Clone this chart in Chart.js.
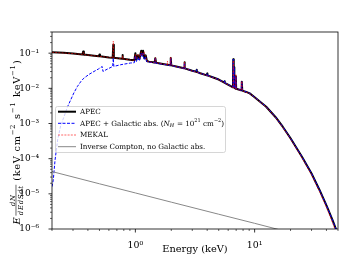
<!DOCTYPE html>
<html>
<head>
<meta charset="utf-8">
<script src="https://cdn.jsdelivr.net/npm/chart.js@4.4.1/dist/chart.umd.min.js"></script>
<style>
  html, body { margin: 0; padding: 0; background: #fff; }
</style>
</head>
<body>
<canvas id="spec" width="349" height="262"></canvas>
<script>
// Energías (keV) y flujos
const apecE = [0.2,0.25,0.3,0.36,0.365,0.37,0.45,0.495,0.5,0.505,0.6,0.645,0.653,0.66,0.775,0.78,0.785,0.9,0.98,1.0,1.02,1.05,1.08,1.12,1.14,1.16,1.19,1.22,1.25,1.3,1.45,1.47,1.49,1.7,1.96,1.98,2.0,2.2,2.56,2.58,2.6,3.0,3.24,3.26,3.28,3.5,3.98,4.0,4.02,4.5,5.0,5.58,5.6,5.62,6.2,6.58,6.62,6.68,6.72,6.76,6.94,6.96,7.0,7.7,7.8,7.88,8.5,9.1,10,12.5,15,17.2,20,25,30,35,40,45,50];
const apecF = [0.107,0.102,0.0977,0.092,0.112,0.091,0.0851,0.082,0.0912,0.0815,0.0759,0.0742,0.174,0.074,0.0695,0.089,0.0693,0.0646,0.0625,0.100,0.066,0.087,0.068,0.117,0.090,0.117,0.072,0.087,0.060,0.0575,0.054,0.072,0.0535,0.0495,0.0452,0.0724,0.045,0.0417,0.0372,0.055,0.037,0.0316,0.0295,0.034,0.0293,0.0269,0.0234,0.0263,0.0233,0.0204,0.0178,0.0145,0.0160,0.0144,0.0120,0.0107,0.0676,0.0110,0.040,0.0105,0.0098,0.022,0.0097,0.0088,0.0155,0.0086,0.0079,0.0072,0.0056,0.0030,0.00151,0.00081,0.00038,0.000112,0.000038,0.0000129,0.0000047,0.00000178,0.0000007];

const absE = [0.2,0.205,0.212,0.223,0.236,0.252,0.27,0.287,0.305,0.326,0.35,0.37,0.41,0.45,0.49,0.527,0.535,0.58,0.645,0.653,0.66,0.75,0.91,0.98,1.0,1.02,1.05,1.08,1.12,1.14,1.16,1.19,1.22,1.25,1.3,1.45,1.47,1.49,1.7,1.96,1.98,2.0,2.2,2.56,2.58,2.6,3.0,3.24,3.26,3.28,3.5,3.98,4.0,4.02,4.5,5.0,5.58,5.6,5.62,6.2,6.58,6.62,6.68,6.72,6.76,6.94,6.96,7.0,7.7,7.8,7.88,8.5,9.1,10,12.5,15,17.2,20,25,30,35,40,45,50];
const absF = [1.6e-5,2.45e-5,9e-5,3.4e-4,8.5e-4,1.55e-3,3.0e-3,4.7e-3,7.4e-3,0.0112,0.0158,0.0195,0.0251,0.0302,0.0355,0.0417,0.0302,0.035,0.0417,0.072,0.042,0.0468,0.0525,0.0535,0.085,0.058,0.075,0.060,0.100,0.080,0.100,0.064,0.077,0.0565,0.056,0.0525,0.070,0.052,0.0485,0.0446,0.0715,0.0445,0.0413,0.037,0.0546,0.0368,0.0315,0.0294,0.0339,0.0292,0.0268,0.0234,0.0263,0.0233,0.0204,0.0178,0.0145,0.0166,0.0144,0.0120,0.0107,0.0676,0.0110,0.040,0.0105,0.0098,0.022,0.0097,0.0088,0.0155,0.0086,0.0079,0.0072,0.0056,0.0030,0.00151,0.00081,0.00038,0.000112,0.000038,0.0000129,0.0000047,0.00000178,0.0000007];

const mekalE = [0.2,0.3,0.36,0.365,0.37,0.5,0.6,0.645,0.653,0.66,0.775,0.78,0.785,0.9,0.98,1.0,1.02,1.06,1.09,1.12,1.15,1.18,1.22,1.25,1.3,1.45,1.47,1.49,1.85,1.86,1.87,1.96,1.98,2.0,2.56,2.58,2.6,3.0,3.5,4.0,5.0,6.2,6.6,6.64,6.68,6.94,6.96,6.98,7.7,7.8,7.88,9.1,10,12.5,15,17.2,20,25,30,35,40,45,50];
const mekalF = [0.106,0.0975,0.092,0.105,0.091,0.0812,0.0757,0.0740,0.22,0.0738,0.0693,0.085,0.069,0.0644,0.0623,0.094,0.07,0.095,0.07,0.11,0.085,0.11,0.08,0.0598,0.0573,0.0538,0.075,0.0533,0.047,0.06,0.047,0.045,0.078,0.0448,0.0370,0.058,0.0368,0.0314,0.0267,0.0232,0.0176,0.0118,0.0105,0.062,0.0104,0.0097,0.025,0.0096,0.0087,0.016,0.0085,0.0071,0.0055,0.00295,0.00147,0.00078,0.00036,0.000104,0.0000345,0.0000115,0.0000041,0.0000015,0.00000058];

const icE = [0.2,0.5,1,2,5,10,20,50];
const icF = [4.3e-5,1.93e-5,1.06e-5,5.8e-6,2.63e-6,1.45e-6,7.9e-7,3.6e-7];

// Ticks
const xMajor = [1, 10];
const xMinor = [0.2,0.3,0.4,0.5,0.6,0.7,0.8,0.9,2,3,4,5,6,7,8,9,20,30,40,50];
const yMajor = [1e-6,1e-5,1e-4,1e-3,1e-2,1e-1];

const serif = "'DejaVu Serif', 'Liberation Serif', serif";

function pares(xs, ys) {
    return xs.map((x, i) => ({ x: x, y: ys[i] }));
}

const sup = { '-': '\u207B', '0': '\u2070', '1': '\u00B9', '2': '\u00B2', '3': '\u00B3', '4': '\u2074', '5': '\u2075', '6': '\u2076', '7': '\u2077', '8': '\u2078', '9': '\u2079' };
function potencia(v) {
    const e = Math.round(Math.log10(v));
    return '10' + String(e).split('').map(c => sup[c]).join('');
}

// Dibuja texto con trozos (cursiva, superíndice, subíndice); esp = espacio extra por letra
function trozos(ctx, runs, x, y, medir, esp) {
    esp = esp || 0;
    let cx = x;
    runs.forEach(r => {
        ctx.font = (r.it ? 'italic ' : '') + r.s + 'px ' + serif;
        r.t.split('').forEach(ch => {
            if (!medir) ctx.fillText(ch, cx, y + (r.dy || 0));
            cx += ctx.measureText(ch).width + esp;
        });
        cx += r.gap || 0;
    });
    return cx - x;
}

// Titulo del eje y: E dN/dEdSdt (keV cm-2 s-1 keV-1)
function tituloY(ctx, S, esp, dibujar) {
    const s = S * 0.7;
    const parte2 = [
        { t: '(keV cm', s: S }, { t: '\u22122', s: s, dy: -S * 0.42, gap: S * 0.1 },
        { t: ' s', s: S }, { t: '\u22121', s: s, dy: -S * 0.42, gap: S * 0.1 },
        { t: ' keV', s: S }, { t: '\u22121', s: s, dy: -S * 0.42, gap: S * 0.05 },
        { t: ')', s: S }
    ];
    const wE = trozos(ctx, [{ t: 'E', s: S, it: true }], 0, 0, true, esp);
    const wNum = trozos(ctx, [{ t: 'dN', s: s, it: true }], 0, 0, true, esp);
    const wDen = trozos(ctx, [{ t: 'dEdSdt', s: s, it: true }], 0, 0, true, esp);
    const wFrac = Math.max(wNum, wDen) + 1;
    const w2 = trozos(ctx, parte2, 0, 0, true, esp);
    const total = wE + 1 + wFrac + S * 0.4 + w2;
    if (!dibujar) return total;
    let u = -total / 2;
    trozos(ctx, [{ t: 'E', s: S, it: true }], u, 0, false, esp);
    u += wE + 1;
    trozos(ctx, [{ t: 'dN', s: s, it: true }], u + (wFrac - wNum) / 2, -S * 0.5, false, esp);
    trozos(ctx, [{ t: 'dEdSdt', s: s, it: true }], u + (wFrac - wDen) / 2, S * 0.35, false, esp);
    ctx.lineWidth = 0.6;
    ctx.beginPath();
    ctx.moveTo(u, -S * 0.36);
    ctx.lineTo(u + wFrac, -S * 0.36);
    ctx.stroke();
    u += wFrac + S * 0.4;
    trozos(ctx, parte2, u, 0, false, esp);
    return total;
}

const decoracion = {
    id: 'decoracion',
    afterDatasetsDraw(chart) {
        const ctx = chart.ctx;
        const a = chart.chartArea;
        const xs = chart.scales.x, ys = chart.scales.y;
        ctx.save();
        ctx.strokeStyle = '#000';
        // marco
        ctx.lineWidth = 0.8;
        ctx.strokeRect(a.left, a.top, a.right - a.left, a.bottom - a.top);
        // marcas
        const tick = (px, len, w, vertical) => {
            ctx.lineWidth = w;
            ctx.beginPath();
            if (vertical) { ctx.moveTo(px, a.bottom); ctx.lineTo(px, a.bottom + len); }
            else { ctx.moveTo(a.left, px); ctx.lineTo(a.left - len, px); }
            ctx.stroke();
        };
        xMajor.forEach(v => tick(xs.getPixelForValue(v), 3.5, 0.8, true));
        xMinor.forEach(v => tick(xs.getPixelForValue(v), 2, 0.6, true));
        yMajor.forEach(v => tick(ys.getPixelForValue(v), 3.5, 0.8, false));
        yMajor.forEach(v => {
            for (let k = 2; k <= 9; k++) {
                const val = v * k;
                if (val <= ys.max) tick(ys.getPixelForValue(val), 2, 0.6, false);
            }
        });

        // titulo eje x
        ctx.fillStyle = '#000';
        ctx.font = '9.8px ' + serif;
        ctx.textAlign = 'center';
        ctx.textBaseline = 'middle';
        ctx.fillText('Energy (keV)', (a.left + a.right) / 2, 249);

        // titulo eje y (rotado), con espacio entre letras para ocupar ~170 px
        ctx.textAlign = 'left';
        ctx.textBaseline = 'alphabetic';
        const S = 9.8;
        const base = tituloY(ctx, S, 0, false);
        const esp = Math.max(0, Math.min(1.2, (170 - base) / 34));
        ctx.translate(19.5, 142);
        ctx.rotate(-Math.PI / 2);
        tituloY(ctx, S, esp, true);
        ctx.restore();
    },
    afterDraw(chart) {
        const ctx = chart.ctx;
        ctx.save();
        // caja de leyenda
        const bx = 55.5, by = 106.5, bw = 170, bh = 46;
        ctx.fillStyle = 'rgba(255,255,255,0.8)';
        ctx.strokeStyle = '#cccccc';
        ctx.lineWidth = 0.8;
        ctx.beginPath();
        ctx.roundRect(bx, by, bw, bh, 2);
        ctx.fill();
        ctx.stroke();

        const L = 7.2;
        const filas = [111.7, 123.3, 135, 146.7];
        const textos = [
            [{ t: 'APEC', s: L }],
            [{ t: 'APEC + Galactic abs. (', s: L }, { t: 'N', s: L, it: true }, { t: 'H', s: L * 0.7, it: true, dy: L * 0.2, gap: 0.5 },
             { t: ' = 10', s: L }, { t: '21', s: L * 0.7, dy: -L * 0.4 }, { t: ' cm', s: L }, { t: '\u22122', s: L * 0.7, dy: -L * 0.4 }, { t: ')', s: L }],
            [{ t: 'MEKAL', s: L }],
            [{ t: 'Inverse Compton, no Galactic abs.', s: L }]
        ];
        chart.data.datasets.forEach((d, i) => {
            const y = filas[i];
            ctx.strokeStyle = d.borderColor;
            ctx.lineWidth = d.borderWidth;
            ctx.setLineDash(d.borderDash || []);
            ctx.beginPath();
            ctx.moveTo(58, y);
            ctx.lineTo(76, y);
            ctx.stroke();
            ctx.setLineDash([]);
            ctx.fillStyle = '#000';
            ctx.textBaseline = 'middle';
            trozos(ctx, textos[i], 80, y + 0.5, false);
        });
        ctx.restore();
    }
};

const datasets = [
    { label: 'APEC', data: pares(apecE, apecF), borderColor: '#000000', borderWidth: 2, order: 4 },
    { label: 'APEC + Galactic abs.', data: pares(absE, absF), borderColor: '#0000ff', borderWidth: 1, borderDash: [3, 1.5], order: 3 },
    { label: 'MEKAL', data: pares(mekalE, mekalF), borderColor: 'rgba(255,0,0,0.75)', borderWidth: 0.8, borderDash: [2, 1.2], order: 2 },
    { label: 'Inverse Compton', data: pares(icE, icF), borderColor: '#888888', borderWidth: 1, order: 1 }
];
datasets.forEach(d => {
    d.pointRadius = 0;
    d.tension = 0;
    d.fill = false;
    d.borderJoinStyle = 'round';
});

new Chart(document.getElementById('spec').getContext('2d'), {
    type: 'line',
    data: { datasets: datasets },
    options: {
        responsive: false,
        animation: false,
        devicePixelRatio: 1,
        layout: { padding: { top: 32, right: 11, left: 0, bottom: 0 } },
        plugins: { legend: { display: false }, tooltip: { enabled: false } },
        scales: {
            x: {
                type: 'logarithmic', min: 0.2, max: 50,
                afterBuildTicks: s => { s.ticks = xMajor.map(v => ({ value: v })); },
                afterFit: s => { s.height = 33; },
                grid: { display: false }, border: { display: false },
                ticks: { callback: v => potencia(v), color: '#000', padding: 3, maxRotation: 0, autoSkip: false, font: { family: serif, size: 9.4 } }
            },
            y: {
                type: 'logarithmic', min: 1e-6, max: 0.4,
                afterBuildTicks: s => { s.ticks = yMajor.map(v => ({ value: v })); },
                afterFit: s => { s.width = 52; },
                grid: { display: false }, border: { display: false },
                ticks: { callback: v => potencia(v), color: '#000', padding: 5, autoSkip: false, font: { family: serif, size: 9 } }
            }
        }
    },
    plugins: [decoracion]
});
</script>
</body>
</html>
